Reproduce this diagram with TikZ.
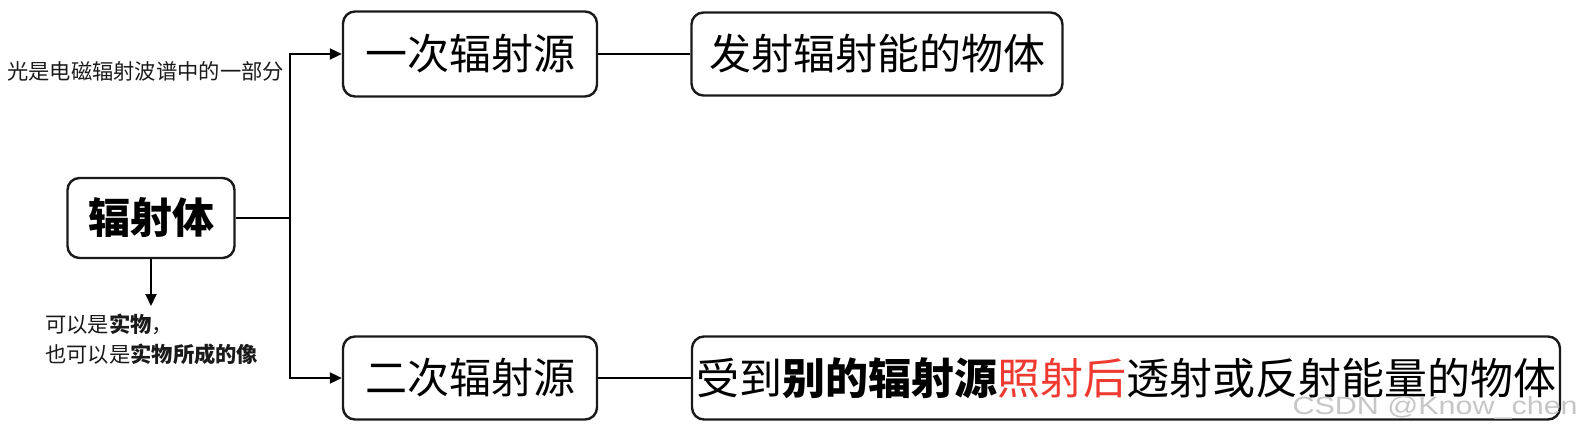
\documentclass[tikz,border=0pt]{standalone}
\usepackage{fontspec}
\setmainfont{Noto Sans CJK SC}
\newfontfamily\markfont{Liberation Sans}
\usetikzlibrary{arrows.meta,positioning}
\definecolor{inkline}{RGB}{26,26,26}
\definecolor{hotred}{RGB}{238,58,48}

\begin{document}
\begin{tikzpicture}[
        x=1pt, y=-1pt,
        box/.style={rectangle, draw=inkline, rounded corners=12pt, line width=2.4pt, inner sep=0pt, align=center, font=\fontsize{42}{50}\selectfont},
        arrow/.style={-{Triangle[length=12pt,width=11pt]}, line width=2pt},
        link/.style={line width=2pt},
        note/.style={font=\fontsize{21.3}{30}\selectfont, align=left, inner sep=0pt, text=inkline}
    ]
        \useasboundingbox (0,0) rectangle (1576,436);

        % Nodes
        \node[box, minimum width=167pt, minimum height=80pt] (body) at (151,218) {\bfseries 辐射体};
        \node[box, minimum width=254pt, minimum height=85pt] (primary) at (470,54) {一次辐射源};
        \node[box, minimum width=371pt, minimum height=83pt] (primdef) at (877,54) {发射辐射能的物体};
        \node[box, minimum width=254pt, minimum height=83pt] (secondary) at (470,378) {二次辐射源};
        \node[box, minimum width=868pt, minimum height=83pt, font=\fontsize{43}{50}\selectfont] (secdef) at (1126,378)
            {受到\textbf{别的辐射源}\textcolor{hotred}{照射后}透射或反射能量的物体};

        \node[note, anchor=west] (lightnote) at (7,71) {光是电磁辐射波谱中的一部分};
        \node[note, anchor=north west] (objnote) at (45,314) {可以是\textbf{实物}，\\也可以是\textbf{实物所成的像}};

        \coordinate (split) at (290,218);
        \coordinate (bodyend) at (151,306);

        % Arrows
        \draw[link] (body.east) -- (split);
        \draw[arrow] (split) |- (primary.west);
        \draw[arrow] (split) |- (secondary.west);
        \draw[arrow] (body.south) -- (bodyend);
        \draw[link] (primary.east) -- (primdef.west);
        \draw[link] (secondary.east) -- (secdef.west);

        % Watermark
        \node[anchor=east, inner sep=0pt, text=gray!45, font=\markfont\fontsize{25}{25}\selectfont, xscale=1.22] (mark) at (1578,408) {CSDN @Know\_chen};
    \end{tikzpicture}
\end{document}
